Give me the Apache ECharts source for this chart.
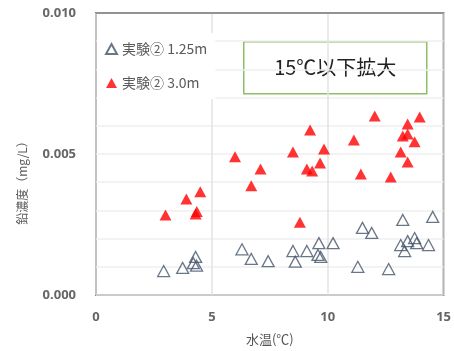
<!DOCTYPE html>
<html>
<head>
<meta charset="utf-8">
<script src="https://cdn.jsdelivr.net/npm/echarts@6/dist/echarts.min.js"></script>
<style>
  html, body { margin: 0; padding: 0; background: #fff; }
  #chart { width: 454px; height: 351px; }
</style>
</head>
<body>
<div id="chart"></div>
<script>
// Lead concentration vs water temperature, experiment ② at two depths (≤15 ℃ range)
const seriesNames = ['実験② 1.25m', '実験② 3.0m'];

// depth 1.25 m: [water temp ℃, lead mg/L]
const depth125 = [
  [2.92, 0.00085], [3.74, 0.00096], [4.30, 0.00135], [4.20, 0.00113], [4.34, 0.00104],
  [6.30, 0.00162], [6.70, 0.00128], [7.43, 0.00120], [8.50, 0.00156], [8.60, 0.00118],
  [9.10, 0.00156], [9.62, 0.00184], [9.58, 0.00142], [9.70, 0.00135], [10.23, 0.00184],
  [11.30, 0.00100], [11.50, 0.00238], [11.90, 0.00220], [12.63, 0.00092], [13.24, 0.00266],
  [13.15, 0.00177], [13.32, 0.00156], [13.45, 0.00191], [13.75, 0.00202], [13.84, 0.00184],
  [14.35, 0.00177], [14.53, 0.00277]
];

// depth 3.0 m: [water temp ℃, lead mg/L]
const depth30 = [
  [3.00, 0.00284], [3.90, 0.00340], [4.30, 0.00287], [4.35, 0.00296], [4.50, 0.00366],
  [6.00, 0.00490], [6.70, 0.00387], [7.10, 0.00447], [8.50, 0.00507], [8.80, 0.00258],
  [9.24, 0.00585], [9.10, 0.00447], [9.33, 0.00440], [9.67, 0.00468], [9.84, 0.00518],
  [11.13, 0.00550], [11.43, 0.00429], [12.03, 0.00635], [12.72, 0.00418], [13.15, 0.00507],
  [13.24, 0.00564], [13.45, 0.00606], [13.45, 0.00571], [13.45, 0.00472], [13.75, 0.00543],
  [13.97, 0.00631]
];

const yLabelTicks = [0, 0.005, 0.010];
const referenceLevel = 0.005;
const noteText = '15℃以下拡大';
const xAxisTitle = '水温(℃)';
const yAxisTitle = '鉛濃度（mg/L）';

const chart = echarts.init(document.getElementById('chart'), null, { renderer: 'canvas' });

const tickFont = { color: '#666', fontSize: 13, fontWeight: 'bold', fontFamily: 'Open Sans, sans-serif' };

chart.setOption({
  animation: false,
  backgroundColor: '#fff',
  grid: {
    left: 96, top: 13, right: 8, bottom: 56,
    show: true, borderColor: '#262626', borderWidth: 1.5, backgroundColor: 'transparent'
  },
  xAxis: {
    type: 'value', min: 0, max: 15, interval: 5,
    name: xAxisTitle, nameLocation: 'middle', nameGap: 38,
    nameTextStyle: { color: '#555', fontSize: 13, fontFamily: 'Noto Sans CJK JP' },
    axisLine: { show: false }, axisTick: { show: false },
    axisLabel: Object.assign({ margin: 16 }, tickFont),
    splitLine: { show: true, lineStyle: { color: '#e3e3e3', width: 1.5 } }
  },
  yAxis: {
    type: 'value', min: 0, max: 0.010, interval: 0.001,
    axisLine: { show: false }, axisTick: { show: false },
    axisLabel: Object.assign({
      margin: 20,
      formatter: v => {
        const hit = yLabelTicks.find(t => Math.abs(t - v) < 1e-9);
        return hit === undefined ? '' : hit.toFixed(3);
      }
    }, tickFont),
    splitLine: { show: true, lineStyle: { color: '#efefef', width: 1.5 } }
  },
  legend: {
    orient: 'vertical', left: 97, top: 33,
    backgroundColor: '#fff', padding: [9, 8, 9, 8], itemGap: 20,
    itemWidth: 11, itemHeight: 10,
    textStyle: { color: '#595959', fontSize: 14, fontFamily: 'Noto Sans CJK JP' },
    data: [
      { name: seriesNames[0], icon: 'triangle' },
      { name: seriesNames[1], icon: 'triangle' }
    ]
  },
  series: [
    {
      name: seriesNames[0], type: 'scatter', symbol: 'triangle', symbolSize: [12, 11],
      itemStyle: { color: 'rgba(255,255,255,0)', borderColor: '#44546A', borderWidth: 1.3 },
      data: depth125, z: 3
    },
    {
      name: seriesNames[1], type: 'scatter', symbol: 'triangle', symbolSize: [12, 11],
      itemStyle: { color: '#FF0000' },
      data: depth30, z: 4,
      markLine: {
        silent: true, symbol: 'none', label: { show: false },
        lineStyle: { color: '#7f7f7f', width: 1.5, type: 'solid' },
        data: [{ yAxis: referenceLevel }], z: 2
      }
    }
  ],
  graphic: [
    {
      type: 'group', left: 243, top: 41, z: 10,
      children: [
        { type: 'rect', shape: { x: 0, y: 0, width: 183, height: 52 },
          style: { fill: '#fff', stroke: '#8DBE6A', lineWidth: 1.5 } },
        { type: 'text', x: 91.5, y: 26,
          style: { text: noteText, fill: '#222', fontSize: 20, fontFamily: 'Noto Sans CJK JP',
                   align: 'center', verticalAlign: 'middle' } }
      ]
    },
    {
      type: 'text', x: 22, y: 180, rotation: Math.PI / 2, z: 10,
      style: { text: yAxisTitle, fill: '#595959', fontSize: 12, fontFamily: 'Noto Sans CJK JP',
               align: 'center', verticalAlign: 'middle' }
    }
  ]
});
</script>
</body>
</html>
